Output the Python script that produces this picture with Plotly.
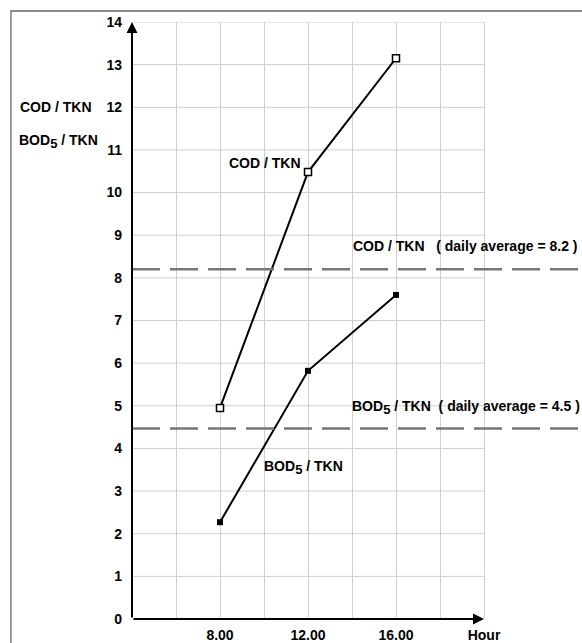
import plotly.graph_objects as go

# ---- data ----
hours = [8, 12, 16]
cod_tkn = [4.95, 10.48, 13.15]
bod_tkn = [2.27, 5.82, 7.60]
cod_daily_avg = 8.2
bod_daily_avg = 4.47

x_tickvals = [8, 12, 16, 20]
x_ticktext = ["8.00", "12.00", "16.00", "Hour"]
x_minor_grid = [6, 10, 14, 18]
y_tickvals = list(range(0, 15))
grid_y = list(range(1, 15))

X_MIN, X_MAX, X_GRID_END = 4, 24.4545, 20
Y_MIN, Y_MAX = 0, 14

FONT = "Liberation Sans, Arial, sans-serif"
NB = "\u00a0"
SUB5 = '<sub><span style="font-size:13px">5</span></sub>'
GRID = "#cfcfcf"

fig = go.Figure()

fig.add_trace(go.Scatter(
    x=hours, y=cod_tkn, mode="lines+markers",
    line=dict(color="black", width=2),
    marker=dict(symbol="square", size=7, color="white",
                line=dict(color="black", width=1.5)),
    showlegend=False, cliponaxis=False))

fig.add_trace(go.Scatter(
    x=hours, y=bod_tkn, mode="lines+markers",
    line=dict(color="black", width=2),
    marker=dict(symbol="square", size=6, color="black"),
    showlegend=False, cliponaxis=False))

shapes = []
# horizontal grid lines (stop at the end of the hour axis)
for gy in grid_y:
    shapes.append(dict(type="line", xref="x", yref="y", x0=X_MIN, x1=X_GRID_END,
                       y0=gy, y1=gy, layer="below",
                       line=dict(color=GRID, width=1)))
# daily average dashed lines
for avg in (cod_daily_avg, bod_daily_avg):
    shapes.append(dict(type="line", xref="x", yref="y", x0=X_MIN, x1=X_MAX,
                       y0=avg, y1=avg, layer="above",
                       line=dict(color="#777777", width=2.5, dash="28px,10px")))
# outer frame
shapes.append(dict(type="rect", xref="paper", yref="paper",
                   x0=-0.269, x1=1.3, y0=-0.3, y1=1.0184,
                   line=dict(color="#666666", width=1.3), layer="below"))

annotations = [
    # axes with arrows
    dict(x=X_MIN, y=Y_MAX, ax=X_MIN, ay=Y_MIN, xref="x", yref="y", axref="x", ayref="y",
         text="", showarrow=True, arrowhead=2, arrowsize=1.1, arrowwidth=2, arrowcolor="black"),
    dict(x=X_GRID_END, y=Y_MIN, ax=X_MIN, ay=Y_MIN, xref="x", yref="y", axref="x", ayref="y",
         text="", showarrow=True, arrowhead=2, arrowsize=1.1, arrowwidth=2, arrowcolor="black"),
    # axis title labels (left)
    dict(x=-0.253, y=12, xref="paper", yref="y", text="COD / TKN",
         showarrow=False, xanchor="left", yanchor="middle"),
    dict(x=-0.255, y=11.2, xref="paper", yref="y", text=f"BOD{SUB5} / TKN",
         showarrow=False, xanchor="left", yanchor="middle"),
    # series labels
    dict(x=8.3, y=10.7, xref="x", yref="y", text="COD / TKN",
         showarrow=False, xanchor="left", yanchor="middle"),
    dict(x=9.9, y=3.55, xref="x", yref="y", text=f"BOD{SUB5} / TKN",
         showarrow=False, xanchor="left", yanchor="middle"),
    # daily average labels
    dict(x=13.95, y=8.75, xref="x", yref="y",
         text=f"COD / TKN{NB*3}( daily average = {cod_daily_avg} )",
         showarrow=False, xanchor="left", yanchor="middle"),
    dict(x=13.9, y=4.95, xref="x", yref="y",
         text=f"BOD{SUB5} / TKN{NB*2}( daily average = 4.5 )",
         showarrow=False, xanchor="left", yanchor="middle"),
]

fig.update_layout(
    width=582, height=643,
    margin=dict(l=132, r=0, t=22, b=24, autoexpand=False),
    paper_bgcolor="white", plot_bgcolor="white",
    font=dict(family=FONT, size=14, color="black", weight="bold"),
    shapes=shapes, annotations=annotations,
    xaxis=dict(range=[X_MIN, X_MAX], tickvals=x_tickvals, ticktext=x_ticktext,
               showgrid=True, gridcolor=GRID, gridwidth=1,
               minor=dict(tickvals=x_minor_grid, showgrid=True, gridcolor=GRID,
                          gridwidth=1, ticks=""),
               zeroline=False, showline=False, ticks="", ticklabelstandoff=6,
               automargin=False, fixedrange=True),
    yaxis=dict(range=[Y_MIN, Y_MAX], tickvals=y_tickvals,
               showgrid=False, zeroline=False, showline=False, ticks="",
               ticklabelstandoff=9, automargin=False, fixedrange=True),
)

fig.write_html("out.html", config={"displayModeBar": False},
               post_script="document.body.style.margin='0';document.body.style.overflow='hidden';")
